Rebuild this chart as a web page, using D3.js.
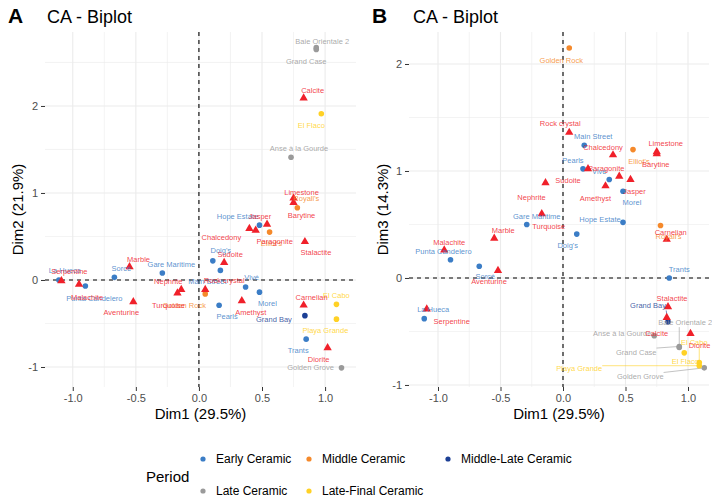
<!DOCTYPE html>
<html><head><meta charset="utf-8">
<script src="https://cdn.jsdelivr.net/npm/d3@7"></script>
<style>
body{margin:0;background:#fff}
svg{display:block}
text{font-family:"Liberation Sans",Arial,sans-serif}
</style>
</head><body>
<svg id="chart" width="712" height="504"></svg>
<script>
// ---------------- DATA ----------------
const periods = ["Early Ceramic","Middle Ceramic","Middle-Late Ceramic","Late Ceramic","Late-Final Ceramic"];
const periodColors = ["#3B7DC6","#F5892B","#1C3F95","#9A9A9A","#FFD125"];
const mineralColor = "#F0202A";

const sites = ["La Hueca","Punta Candelero","Sorcé","Gare Maritime","Doig's","Main Street","Pearls","Vivé","Morel","Hope Estate","Trants",
  "Golden Rock","Elliot's","Royall's","Grand Bay","Anse à la Gourde","Baie Orientale 2","Grand Case","Golden Grove","El Flaco","El Cabo","Playa Grande"];
const sitePeriod = [0,0,0,0,0,0,0,0,0,0,0, 1,1,1, 2, 3,3,3,3, 4,4,4];
const siteDim1 = [-1.11,-0.90,-0.67,-0.29,0.11,0.17,0.16,0.37,0.48,0.48,0.85, 0.05,0.56,0.78, 0.84, 0.73,0.93,0.93,1.13, 0.97,1.09,1.09];
const siteDim2 = [0.00,-0.07,0.03,0.08,0.22,0.11,-0.29,-0.08,-0.14,0.63,-0.68, -0.16,0.55,0.83, -0.41, 1.41,2.67,2.65,-1.01, 1.91,-0.28,-0.45];
const siteDim3 = [-0.38,0.17,0.11,0.50,0.41,1.24,1.02,0.92,0.81,0.52,0.00, 2.15,1.20,0.49, -0.41, -0.54,-0.65,-0.64,-0.84, -0.70,-0.79,-0.82];

const minerals = ["Serpentine","Malachite","Marble","Aventurine","Nephrite","Turquoise","Rock crystal","Sudoite","Chalcedony","Paragonite",
  "Jasper","Amethyst","Limestone","Barytine","Stalactite","Carnelian","Calcite","Diorite"];
const minDim1 = [-1.09,-0.95,-0.55,-0.52,-0.14,-0.17,0.05,0.20,0.40,0.45, 0.54,0.34,0.75,0.75,0.84,0.83,0.83,1.02];
const minDim2 = [-0.01,-0.05,0.15,-0.25,-0.11,-0.15,-0.11,0.20,0.59,0.57, 0.64,-0.24,0.94,0.89,0.44,-0.29,2.09,-0.78];
const minDim3 = [-0.29,0.26,0.37,0.07,0.89,0.60,1.36,1.02,1.15,0.95, 0.92,0.86,1.18,1.16,-0.27,0.36,-0.37,-0.52];

const xTicks = [-1.0,-0.5,0.0,0.5,1.0];
const xMinor = [-0.75,-0.25,0.25,0.75];
const yTicks = [-1,0,1,2];

// ---------------- LAYOUT (label nudges in px) ----------------
const nudgeA = {
  "La Hueca":[6,-10],"Punta Candelero":[9,12],"Sorcé":[7,-9],"Gare Maritime":[9,-9],"Doig's":[8,-10],"Main Street":[-13,11],
  "Pearls":[8,11],"Vivé":[6,-10],"Morel":[8,11],"Hope Estate":[-22,-9],"Trants":[-8,11],"Golden Rock":[-21,11],"Elliot's":[2,11],
  "Royall's":[9,-9],"Grand Bay":[-31,4],"Anse à la Gourde":[8,-9],"Baie Orientale 2":[6,-6],"Grand Case":[-10,12],"Golden Grove":[-31,0],
  "El Flaco":[-10,12],"El Cabo":[0,-9],"Playa Grande":[-11,11],
  "Serpentine":[8,-9],"Malachite":[8,13],"Marble":[9,-8],"Aventurine":[-12,11],"Nephrite":[-13,-8],"Turquoise":[-9,12],
  "Rock crystal":[19,-9],"Sudoite":[6,-8],"Chalcedony":[-28,9],"Paragonite":[19,11],"Jasper":[-7,-8],"Amethyst":[9,12],
  "Limestone":[8,-6],"Barytine":[8,13],"Stalactite":[11,11],"Carnelian":[8,-8],"Calcite":[9,-8],"Diorite":[-9,12]
};
const nudgeB = {
  "La Hueca":[9,-9],"Punta Candelero":[-7,-8],"Sorcé":[6,10],"Gare Maritime":[10,-8],"Doig's":[-9,11],"Main Street":[9,-9],
  "Pearls":[-10,-8],"Vivé":[-10,-8],"Morel":[9,11],"Hope Estate":[-23,-3],"Trants":[10,-9],"Golden Rock":[-8,12],"Elliot's":[6,12],
  "Royall's":[8,11],"Grand Bay":[-20,-16],"Anse à la Gourde":[-32,-2],"Baie Orientale 2":[6,-25],"Grand Case":[-43,6],"Golden Grove":[-64,9],
  "El Flaco":[1,9],"El Cabo":[-5,-20],"Playa Grande":[-120,3],
  "Serpentine":[25,12],"Malachite":[5,-8],"Marble":[9,-8],"Aventurine":[-9,11],"Nephrite":[-14,15],"Turquoise":[7,13],
  "Rock crystal":[-9,-9],"Sudoite":[-20,12],"Chalcedony":[-10,-8],"Paragonite":[-13,-8],"Jasper":[4,12],"Amethyst":[-10,12],
  "Limestone":[9,-8],"Barytine":[-1,11],"Stalactite":[4,-8],"Carnelian":[4,-7],"Calcite":[-10,16],"Diorite":[9,12]
};
const segA = [];
const segB = ["Grand Bay","Baie Orientale 2","Grand Case","El Cabo","Playa Grande","Golden Grove"];

const svg = d3.select("#chart");

const panels = [
  {tag:"A", tagX:8, titleX:47, left:45, right:356, top:32, bottom:387, xdom:[-1.22,1.245], ydom:[-1.23,2.85],
   yMinor:[-0.5,0.5,1.5,2.5], siteY:siteDim2, minY:minDim2, yTitle:"Dim2 (21.9%)", yTitleX:18, nudge:nudgeA, seg:segA},
  {tag:"B", tagX:372, titleX:413, left:409, right:709, top:32, bottom:387, xdom:[-1.232,1.168], ydom:[-1.019,2.299],
   yMinor:[-0.5,0.5,1.5], siteY:siteDim3, minY:minDim3, yTitle:"Dim3 (14.3%)", yTitleX:383, nudge:nudgeB, seg:segB}
];

panels.forEach(p => {
  const x = d3.scaleLinear().domain(p.xdom).range([p.left,p.right]);
  const y = d3.scaleLinear().domain(p.ydom).range([p.bottom,p.top]);
  const g = svg.append("g");

  // grid
  const grid = g.append("g");
  xMinor.forEach(v => grid.append("line").attr("x1",x(v)).attr("x2",x(v)).attr("y1",p.top).attr("y2",p.bottom)
    .attr("stroke","#EBEBEB").attr("stroke-width",0.6));
  p.yMinor.forEach(v => grid.append("line").attr("y1",y(v)).attr("y2",y(v)).attr("x1",p.left).attr("x2",p.right)
    .attr("stroke","#EBEBEB").attr("stroke-width",0.6));
  xTicks.forEach(v => grid.append("line").attr("x1",x(v)).attr("x2",x(v)).attr("y1",p.top).attr("y2",p.bottom)
    .attr("stroke","#EBEBEB").attr("stroke-width",1.1));
  yTicks.forEach(v => grid.append("line").attr("y1",y(v)).attr("y2",y(v)).attr("x1",p.left).attr("x2",p.right)
    .attr("stroke","#EBEBEB").attr("stroke-width",1.1));

  // axes
  const ax = g.append("g").attr("transform",`translate(0,${p.bottom})`)
    .call(d3.axisBottom(x).tickValues(xTicks).tickSize(4).tickPadding(3).tickFormat(d => d.toFixed(1).replace("−","-")));
  const ay = g.append("g").attr("transform",`translate(${p.left},0)`)
    .call(d3.axisLeft(y).tickValues(yTicks).tickSize(4).tickPadding(3).tickFormat(d => String(d)));
  [ax,ay].forEach(a => {
    a.select(".domain").remove();
    a.selectAll(".tick line").attr("stroke","#333").attr("stroke-width",1);
    a.selectAll(".tick text").attr("fill","#4D4D4D").style("font-size","11px").style("font-family","'Liberation Sans',Arial,sans-serif");
  });

  // dashed zero lines
  g.append("line").attr("x1",x(0)).attr("x2",x(0)).attr("y1",p.top).attr("y2",p.bottom)
    .attr("stroke","#000").attr("stroke-width",1.1).attr("stroke-dasharray","4,4");
  g.append("line").attr("x1",p.left).attr("x2",p.right).attr("y1",y(0)).attr("y2",y(0))
    .attr("stroke","#000").attr("stroke-width",1.1).attr("stroke-dasharray","4,4");

  // titles
  svg.append("text").attr("x",p.tagX).attr("y",23).text(p.tag).style("font-size","21px").style("font-weight","bold").attr("fill","#000");
  svg.append("text").attr("x",p.titleX).attr("y",23).text("CA - Biplot").style("font-size","18px").attr("fill","#000");
  svg.append("text").attr("x",(p.left+p.right)/2).attr("y",419).attr("text-anchor","middle").text("Dim1 (29.5%)")
    .style("font-size","15px").attr("fill","#000");
  svg.append("text").attr("transform",`translate(${p.yTitleX},${(p.top+p.bottom)/2}) rotate(-90)`).attr("dy","0.35em")
    .attr("text-anchor","middle").text(p.yTitle).style("font-size","15px").attr("fill","#000");

  // items
  const items = [];
  sites.forEach((s,i) => items.push({name:s, px:x(siteDim1[i]), py:y(p.siteY[i]), color:periodColors[sitePeriod[i]], tri:false}));
  minerals.forEach((m,i) => items.push({name:m, px:x(minDim1[i]), py:y(p.minY[i]), color:mineralColor, tri:true}));

  const clip = "clip"+p.tag;
  svg.append("clipPath").attr("id",clip).append("rect").attr("x",p.left).attr("y",p.top)
    .attr("width",p.right-p.left+3).attr("height",p.bottom-p.top);
  const layer = g.append("g").attr("clip-path",`url(#${clip})`);

  // labels first measured, segments drawn beneath
  const segLayer = layer.append("g");
  const markLayer = layer.append("g");
  const labLayer = layer.append("g");

  items.forEach(it => {
    const nd = p.nudge[it.name] || [0,-9];
    const t = labLayer.append("text").attr("x",it.px+nd[0]).attr("y",it.py+nd[1]).attr("dy","0.35em")
      .attr("text-anchor","middle").text(it.name).style("font-size","7.5px").attr("fill",it.color).attr("fill-opacity",0.85);
    if (p.seg.includes(it.name)) {
      const bb = t.node().getBBox();
      const cx = Math.max(bb.x, Math.min(it.px, bb.x+bb.width));
      const cy = Math.max(bb.y, Math.min(it.py, bb.y+bb.height));
      const dx = it.px-cx, dy = it.py-cy, L = Math.hypot(dx,dy);
      if (L > 4) {
        segLayer.append("line").attr("x1",cx).attr("y1",cy).attr("x2",it.px-dx/L*2).attr("y2",it.py-dy/L*2)
          .attr("stroke",it.color).attr("stroke-width",0.6);
      }
    }
  });
  items.forEach(it => {
    if (it.tri) {
      markLayer.append("path").attr("d",d3.symbol(d3.symbolTriangle,30)()).attr("transform",`translate(${it.px},${it.py})`)
        .attr("fill",it.color);
    } else {
      markLayer.append("circle").attr("cx",it.px).attr("cy",it.py).attr("r",2.8).attr("fill",it.color);
    }
  });
});

// legend
const leg = svg.append("g");
leg.append("text").attr("x",146).attr("y",482).text("Period").style("font-size","15px").attr("fill","#000");
const legPos = [[203,459],[309,459],[448,459],[203,491],[309,491]];
periods.forEach((name,i) => {
  leg.append("circle").attr("cx",legPos[i][0]).attr("cy",legPos[i][1]).attr("r",2.6).attr("fill",periodColors[i]);
  leg.append("text").attr("x",legPos[i][0]+13).attr("y",legPos[i][1]+4.3).text(name).style("font-size","12px").attr("fill","#000");
});
</script>
</body></html>
